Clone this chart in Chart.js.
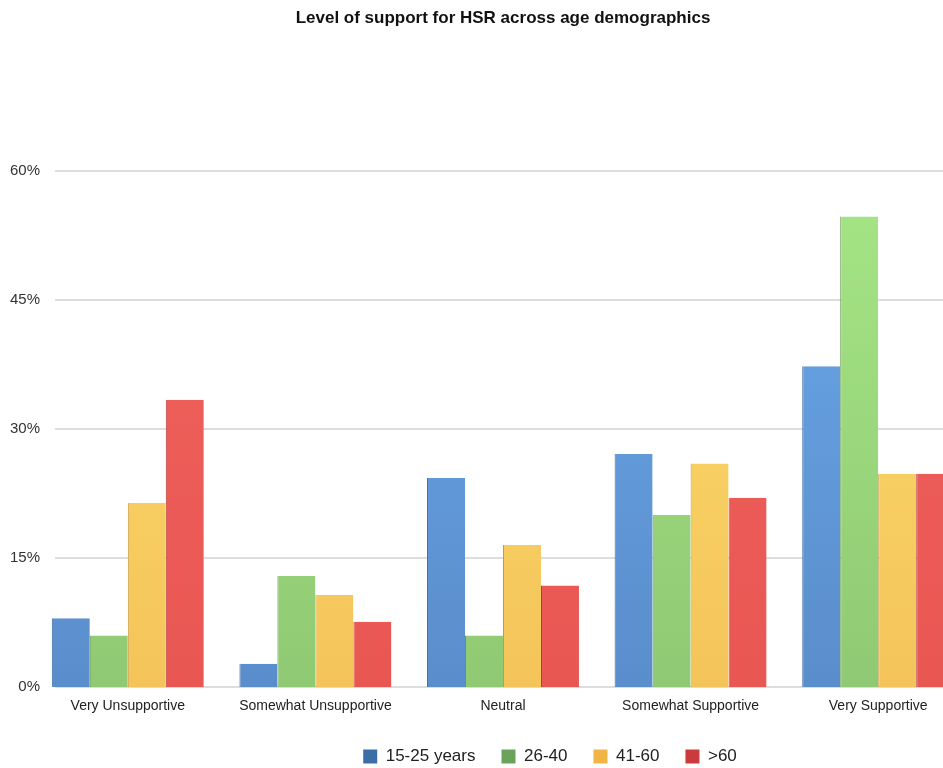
<!DOCTYPE html>
<html>
<head>
<meta charset="utf-8">
<title>Level of support for HSR across age demographics</title>
<script src="https://cdn.jsdelivr.net/npm/chart.js@4.4.1/dist/chart.umd.min.js"></script>
<style>
  html, body { margin: 0; padding: 0; background: #fff; overflow: hidden; }
  #wrap { position: relative; width: 972px; height: 768px; }
</style>
</head>
<body>
<div id="wrap"><canvas id="chart"></canvas></div>
<script>
// data (percent of respondents)
const categories = ['Very Unsupportive', 'Somewhat Unsupportive', 'Neutral', 'Somewhat Supportive', 'Very Supportive'];
const ageGroups = ['15-25 years', '26-40', '41-60', '>60'];
const age15to25 = [8.0, 2.7, 24.3, 27.1, 37.3];
const age26to40 = [6.0, 12.9, 6.0, 20.0, 54.7];
const age41to60 = [21.4, 10.7, 16.5, 26.0, 24.8];
const age60plus = [33.4, 7.6, 11.8, 22.0, 24.8];
const yTicks = [0, 15, 30, 45, 60];

// bar shading: [bottom, top, edge], legend uses the darker swatches
const barShades = [
  ['#5a8dcb', '#6aa8ea', '#3f6fa8'],
  ['#90c973', '#a6e686', '#5f9a4e'],
  ['#f4c45a', '#fbdd6c', '#c99a3a'],
  ['#e95753', '#f0625d', '#b83a37']
];
const legendColors = ['#3b6ea6', '#6aa45a', '#f0b546', '#cc3b3b'];

function barFill(bottom, top) {
  return ctx => {
    const area = ctx.chart.chartArea;
    if (!area) return bottom;
    const g = ctx.chart.ctx.createLinearGradient(0, area.bottom, 0, area.top);
    g.addColorStop(0, bottom);
    g.addColorStop(1, top);
    return g;
  };
}

// light horizontal rules that start a bit right of the tick labels
const softGrid = {
  id: 'softGrid',
  beforeDatasetsDraw(chart) {
    const { ctx, chartArea, scales } = chart;
    ctx.save();
    ctx.strokeStyle = '#dddddd';
    ctx.lineWidth = 2;
    yTicks.forEach(v => {
      const py = Math.round(scales.y.getPixelForValue(v));
      ctx.beginPath();
      ctx.moveTo(55, py);
      ctx.lineTo(chartArea.right, py);
      ctx.stroke();
    });
    ctx.restore();
  }
};

// nudge the legend to where it sits in the original
const legendNudge = {
  id: 'legendNudge',
  afterLayout(chart) {
    const lg = chart.legend;
    lg.left += 47; lg.right += 47;
    lg.top += 1; lg.bottom += 1;
  }
};

const seriesValues = [age15to25, age26to40, age41to60, age60plus];

new Chart(document.getElementById('chart'), {
  type: 'bar',
  data: {
    labels: categories,
    datasets: ageGroups.map((name, i) => ({
      label: name,
      data: seriesValues[i],
      backgroundColor: barFill(barShades[i][0], barShades[i][1]),
      borderColor: barShades[i][2],
      borderWidth: { left: 1, top: 0, right: 0, bottom: 0 },
      categoryPercentage: 0.81,
      barPercentage: 1.0
    }))
  },
  options: {
    responsive: true,
    maintainAspectRatio: false,
    animation: false,
    layout: { padding: { left: 0, right: 0, top: 0, bottom: -6 } },
    plugins: {
      title: {
        display: true,
        text: 'Level of support for HSR across age demographics',
        fullSize: false,
        color: '#111',
        font: { family: 'Liberation Sans, Arial, sans-serif', size: 17, weight: 'bold' },
        padding: { top: 8, bottom: 142.6 }
      },
      legend: {
        position: 'bottom',
        fullSize: false,
        labels: {
          color: '#222',
          font: { family: 'Liberation Sans, Arial, sans-serif', size: 17 },
          boxWidth: 14,
          boxHeight: 14,
          padding: 26,
          generateLabels: chart => chart.data.datasets.map((ds, i) => ({
            text: ds.label,
            fillStyle: legendColors[i],
            strokeStyle: legendColors[i],
            lineWidth: 0,
            hidden: false,
            datasetIndex: i,
            fontColor: '#222'
          }))
        }
      },
      tooltip: { enabled: false }
    },
    scales: {
      x: {
        grid: { display: false },
        border: { display: false },
        afterFit: s => { s.height = 34; },
        ticks: {
          color: '#222',
          padding: 3,
          maxRotation: 0,
          autoSkip: false,
          font: { family: 'Liberation Sans, Arial, sans-serif', size: 14 }
        }
      },
      y: {
        min: 0,
        max: 60,
        grid: { display: false },
        border: { display: false },
        afterFit: s => { s.width = 34; },
        afterBuildTicks: s => { s.ticks = yTicks.map(v => ({ value: v })); },
        ticks: {
          color: '#333',
          mirror: true,
          crossAlign: 'far',
          padding: -24,
          font: { family: 'Liberation Sans, Arial, sans-serif', size: 15 },
          callback: v => v + '%'
        }
      }
    }
  },
  plugins: [softGrid, legendNudge]
});
</script>
</body>
</html>
